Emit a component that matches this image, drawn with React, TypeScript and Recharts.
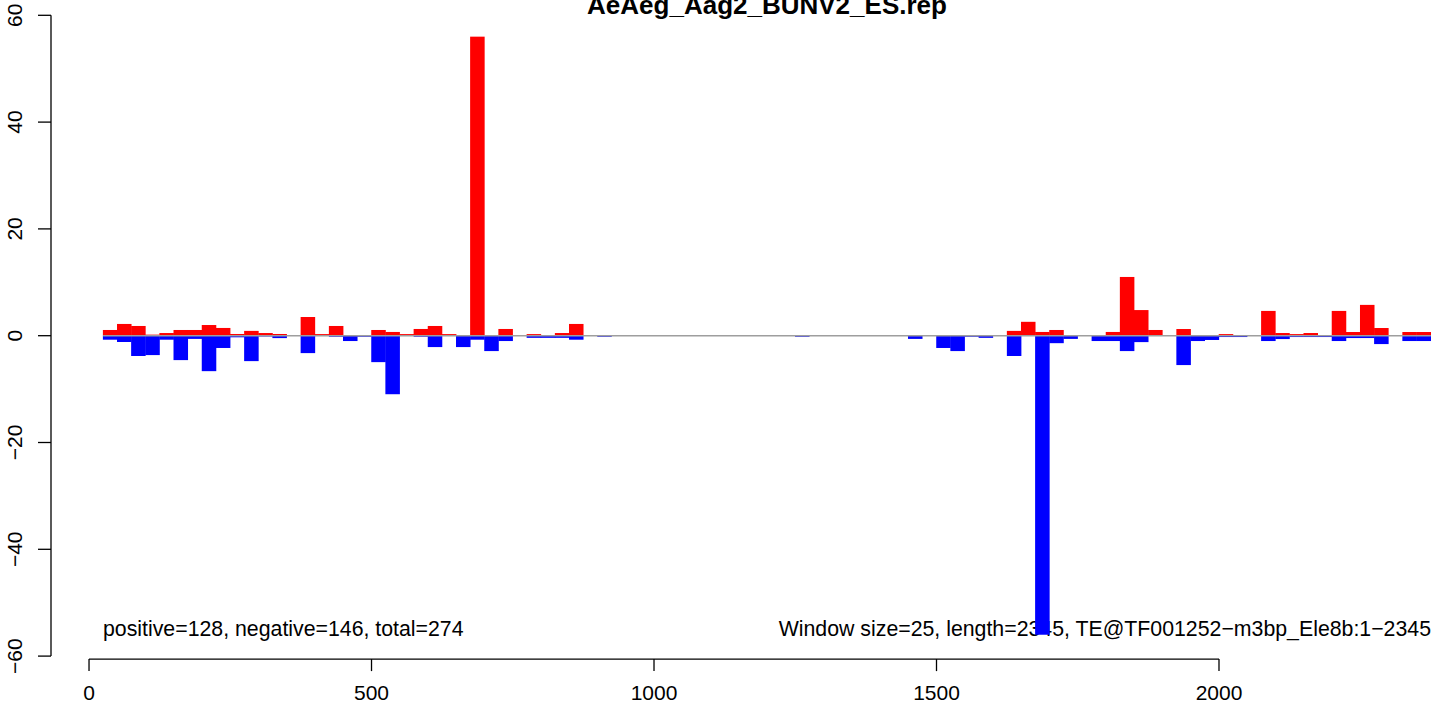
import React from "react";
import { BarChart, Bar, XAxis, YAxis, ReferenceLine } from "recharts";

const WINDOW = 25;

// start of each 25bp window
const windowStarts = [
  25, 50, 75, 100, 125, 150, 175, 200, 225, 250,
  275, 300, 325, 350, 375, 400, 425, 450, 475, 500,
  525, 550, 575, 600, 625, 650, 675, 700, 725, 750,
  775, 800, 825, 850, 875, 900, 925, 950, 975, 1000,
  1025, 1050, 1075, 1100, 1125, 1150, 1175, 1200, 1225, 1250,
  1275, 1300, 1325, 1350, 1375, 1400, 1425, 1450, 1475, 1500,
  1525, 1550, 1575, 1600, 1625, 1650, 1675, 1700, 1725, 1750,
  1775, 1800, 1825, 1850, 1875, 1900, 1925, 1950, 1975, 2000,
  2025, 2050, 2075, 2100, 2125, 2150, 2175, 2200, 2225, 2250,
  2275, 2300, 2325, 2350,
];

const positive = [
  1.07, 2.2, 1.82, 0.2, 0.5, 1.07, 1.07, 2.0, 1.45, 0.32,
  0.9, 0.5, 0.32, 0, 3.5, 0.3, 1.82, 0, 0, 1.07,
  0.7, 0.3, 1.26, 1.82, 0.3, 0, 56, 0, 1.26, 0,
  0.3, 0.1, 0.5, 2.2, 0, 0.1, 0.1, 0, 0, 0,
  0.1, 0, 0, 0, 0, 0, 0, 0, 0, 0,
  0, 0, 0.1, 0, 0, 0, 0, 0, 0, 0,
  0.1, 0, 0, 0.1, 0.9, 2.6, 0.7, 1.07, 0, 0,
  0, 0.7, 11.0, 4.8, 1.07, 0.1, 1.25, 0, 0, 0.3,
  0.1, 0.1, 4.64, 0.5, 0.3, 0.5, 0, 4.64, 0.69, 5.77,
  1.44, 0.1, 0.69, 0.69,
];

const negative = [
  -0.75, -1.18, -3.8, -3.63, -0.75, -4.57, -0.6, -6.64, -2.3, -0.3,
  -4.76, -0.15, -0.45, 0, -3.26, 0, -0.2, -1.0, -0.2, -4.95,
  -10.96, 0, -0.2, -2.13, 0, -2.13, -0.75, -2.88, -1.0, 0,
  -0.4, -0.4, -0.4, -0.75, 0, -0.2, 0, 0, 0, 0,
  0, 0, 0, 0, 0, 0, 0, 0, 0, -0.2,
  0, 0, 0, 0, 0, 0, 0, -0.6, 0, -2.3,
  -2.88, -0.2, -0.4, 0, -3.8, 0, -56, -1.4, -0.6, 0,
  -1.0, -1.0, -2.88, -1.2, 0, 0, -5.5, -1.0, -0.8, -0.25,
  -0.25, 0, -1.0, -0.63, -0.25, -0.25, -0.25, -1.0, -0.44, -0.44,
  -1.57, 0, -1.0, -1.0,
];

const xTicks = [0, 500, 1000, 1500, 2000];
const yTicks = [60, 40, 20, 0, -20, -40, -60];

const title = "AeAeg_Aag2_BUNV2_ES.rep";
const leftNote = "positive=128, negative=146, total=274";
const rightNote = "Window size=25, length=2345, TE@TF001252\u2212m3bp_Ele8b:1\u22122345";

const data = windowStarts.map((s, i) => ({
  mid: s + WINDOW / 2,
  positive: positive[i],
  negative: negative[i],
}));

const W = 1449;
const H = 709;
const FONT = "'Liberation Sans', Arial, Helvetica, sans-serif";
const PX_PER_BP = 0.565;
const BIN_PX = WINDOW * PX_PER_BP;
const X_MIN = -67.3;
const X_MAX = 2407.1;
const X_AXIS_Y = -60.56; // R draws the x axis a little below the -60 tick

const minus = (v: number) => (v < 0 ? "\u2212" + Math.abs(v) : String(v));

// recharts shrinks bars that fill the whole band, so draw full-width windows here
const WindowRect = (props: any) => {
  const { x, y, width, height, fill } = props;
  if (!height) return null;
  const cx = x + width / 2;
  const top = Math.min(y, y + height);
  return <rect x={cx - BIN_PX / 2 - 0.2} y={top} width={BIN_PX + 0.4} height={Math.abs(height)} fill={fill} />;
};

const XTick = (props: any) => {
  const { x, y, payload } = props;
  return (
    <g>
      <line x1={x} x2={x} y1={y + 3} y2={y + 15} stroke="#000" strokeWidth={1.3} />
      <text x={x} y={y + 36} textAnchor="middle" dominantBaseline="central" fontSize={21} fontFamily={FONT} fill="#000">
        {payload.value}
      </text>
    </g>
  );
};

const YTick = (props: any) => {
  const { x, y, payload } = props;
  return (
    <g>
      <line x1={x - 13} x2={x} y1={y} y2={y} stroke="#000" strokeWidth={1.3} />
      <text
        transform={`translate(${x - 37},${y}) rotate(-90)`}
        textAnchor="middle"
        dominantBaseline="central"
        fontSize={21}
        fontFamily={FONT}
        fill="#000"
      >
        {minus(payload.value)}
      </text>
    </g>
  );
};

export default function App() {
  return (
    <div style={{ position: "absolute", left: 0, top: 0, width: W, height: H, background: "#fff" }}>
      <svg width={W} height={H} style={{ position: "absolute", left: 0, top: 0 }}>
        <text x={767} y={13.5} textAnchor="middle" fontSize={26} fontWeight="bold" fontFamily={FONT}>
          {title}
        </text>
        <text x={103} y={636} fontSize={21.3} fontFamily={FONT}>
          {leftNote}
        </text>
        <text x={1431} y={636} textAnchor="end" fontSize={21.3} fontFamily={FONT}>
          {rightNote}
        </text>
      </svg>
      <div style={{ position: "absolute", left: 0, top: 0 }}>
        <BarChart
          width={W}
          height={H}
          data={data}
          stackOffset="sign"
          barSize={10}
          margin={{ top: 15.3, right: 0, bottom: 0, left: 0 }}
        >
          <XAxis
            dataKey="mid"
            type="number"
            domain={[X_MIN, X_MAX]}
            allowDataOverflow
            ticks={xTicks}
            interval={0}
            axisLine={false}
            tickLine={false}
            tickSize={0}
            tickMargin={0}
            height={52.9}
            tick={<XTick />}
          />
          <YAxis
            type="number"
            domain={[-60, 60]}
            ticks={yTicks}
            interval={0}
            width={51}
            axisLine={{ stroke: "#000", strokeWidth: 1.3 }}
            tickLine={false}
            tickSize={0}
            tickMargin={0}
            tick={<YTick />}
          />
          <ReferenceLine
            segment={[{ x: windowStarts[0], y: 0 }, { x: windowStarts[windowStarts.length - 1] + WINDOW, y: 0 }]}
            stroke="#9e9e9e"
            strokeWidth={1.4}
          />
          <ReferenceLine
            segment={[{ x: xTicks[0], y: X_AXIS_Y }, { x: xTicks[xTicks.length - 1], y: X_AXIS_Y }]}
            stroke="#000"
            strokeWidth={1.3}
            ifOverflow="visible"
          />
          <Bar dataKey="positive" stackId="s" fill="#ff0000" shape={<WindowRect />} isAnimationActive={false} />
          <Bar dataKey="negative" stackId="s" fill="#0000ff" shape={<WindowRect />} isAnimationActive={false} />
        </BarChart>
      </div>
    </div>
  );
}
